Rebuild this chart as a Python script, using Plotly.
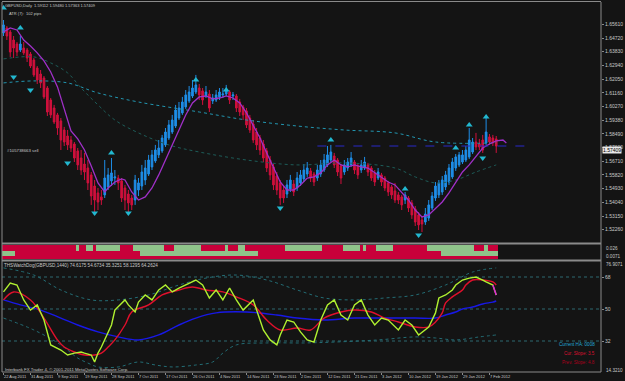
import plotly.graph_objects as go

# ---------------- data ----------------
date_labels = ["22 Aug 2011", "31 Aug 2011", "9 Sep 2011", "19 Sep 2011", "28 Sep 2011",
               "7 Oct 2011", "17 Oct 2011", "26 Oct 2011", "4 Nov 2011", "14 Nov 2011",
               "23 Nov 2011", "2 Dec 2011", "12 Dec 2011", "21 Dec 2011", "3 Jan 2012",
               "10 Jan 2012", "19 Jan 2012", "29 Jan 2012", "7 Feb 2012"]
date_bars = [0, 8, 16, 24, 32, 40, 48, 56, 64, 72, 80, 88, 96, 104, 112, 120, 128, 136, 144]

price_ticks = [1.6561, 1.6472, 1.6383, 1.6294, 1.6205, 1.6116, 1.6027, 1.5938, 1.5849, 1.5760,
               1.5671, 1.5582, 1.5493, 1.5404, 1.5315, 1.5226]

ha_open = [1.6505, 1.6537, 1.6511, 1.6459, 1.6433, 1.6394, 1.6407, 1.6394, 1.6368, 1.6329,
           1.6277, 1.6238, 1.6212, 1.6147, 1.6069, 1.6017, 1.5972, 1.5933, 1.5874, 1.5835,
           1.5809, 1.5783, 1.5738, 1.5692, 1.5653, 1.5627, 1.5582, 1.5510, 1.5465, 1.5439,
           1.5452, 1.5504, 1.5543, 1.5562, 1.5562, 1.5543, 1.5497, 1.5458, 1.5432, 1.5419,
           1.5484, 1.5510, 1.5549, 1.5588, 1.5634, 1.5673, 1.5712, 1.5738, 1.5777, 1.5822,
           1.5861, 1.5900, 1.5952, 1.5985, 1.6024, 1.6063, 1.6095, 1.6121, 1.6147, 1.6128,
           1.6095, 1.6108, 1.6063, 1.6069, 1.6089, 1.6102, 1.6108, 1.6121, 1.6095, 1.6095,
           1.6056, 1.6024, 1.5998, 1.5952, 1.5913, 1.5861, 1.5822, 1.5783, 1.5738, 1.5679,
           1.5634, 1.5575, 1.5530, 1.5484, 1.5458, 1.5491, 1.5523, 1.5497, 1.5530, 1.5556,
           1.5588, 1.5608, 1.5588, 1.5562, 1.5588, 1.5614, 1.5647, 1.5679, 1.5705, 1.5679,
           1.5640, 1.5601, 1.5627, 1.5647, 1.5666, 1.5640, 1.5614, 1.5627, 1.5647, 1.5627,
           1.5595, 1.5562, 1.5582, 1.5562, 1.5530, 1.5504, 1.5478, 1.5452, 1.5439, 1.5419,
           1.5432, 1.5400, 1.5361, 1.5322, 1.5289, 1.5276, 1.5302, 1.5367, 1.5432, 1.5452,
           1.5471, 1.5504, 1.5536, 1.5569, 1.5627, 1.5647, 1.5666, 1.5679, 1.5699, 1.5731,
           1.5796, 1.5783, 1.5809, 1.5790, 1.5829, 1.5822, 1.5816]
ha_close = [1.6557, 1.6485, 1.6381, 1.6407, 1.6381, 1.6433, 1.6375, 1.6342, 1.6290, 1.6232,
            1.6199, 1.6180, 1.6089, 1.5991, 1.5972, 1.5926, 1.5887, 1.5809, 1.5796, 1.5777,
            1.5757, 1.5692, 1.5647, 1.5614, 1.5601, 1.5530, 1.5445, 1.5419, 1.5406, 1.5419,
            1.5562, 1.5582, 1.5595, 1.5569, 1.5530, 1.5432, 1.5419, 1.5400, 1.5387, 1.5549,
            1.5530, 1.5601, 1.5627, 1.5679, 1.5712, 1.5744, 1.5757, 1.5822, 1.5861, 1.5907,
            1.5939, 1.6004, 1.6017, 1.6056, 1.6102, 1.6121, 1.6147, 1.6167, 1.6102, 1.6069,
            1.6121, 1.6017, 1.6082, 1.6102, 1.6121, 1.6108, 1.6134, 1.6069, 1.6102, 1.6017,
            1.5991, 1.5972, 1.5907, 1.5874, 1.5809, 1.5777, 1.5744, 1.5692, 1.5627, 1.5582,
            1.5517, 1.5484, 1.5432, 1.5432, 1.5517, 1.5549, 1.5471, 1.5562, 1.5582, 1.5614,
            1.5627, 1.5562, 1.5536, 1.5614, 1.5647, 1.5679, 1.5712, 1.5731, 1.5647, 1.5601,
            1.5562, 1.5647, 1.5666, 1.5692, 1.5614, 1.5582, 1.5647, 1.5666, 1.5601, 1.5562,
            1.5536, 1.5601, 1.5536, 1.5497, 1.5471, 1.5452, 1.5419, 1.5419, 1.5387, 1.5452,
            1.5367, 1.5322, 1.5276, 1.5257, 1.5263, 1.5328, 1.5387, 1.5445, 1.5510, 1.5530,
            1.5549, 1.5582, 1.5627, 1.5666, 1.5699, 1.5712, 1.5712, 1.5744, 1.5809, 1.5796,
            1.5764, 1.5764, 1.5744, 1.5861, 1.5796, 1.5790, 1.5770]
ha_high = [1.6589, 1.6550, 1.6524, 1.6485, 1.6446, 1.6485, 1.6446, 1.6407, 1.6381, 1.6342,
           1.6290, 1.6264, 1.6225, 1.6160, 1.6082, 1.6037, 1.5985, 1.5952, 1.5894, 1.5874,
           1.5835, 1.5796, 1.5757, 1.5744, 1.5725, 1.5679, 1.5601, 1.5549, 1.5497, 1.5484,
           1.5679, 1.5627, 1.5692, 1.5614, 1.5582, 1.5562, 1.5517, 1.5484, 1.5452, 1.5582,
           1.5562, 1.5647, 1.5679, 1.5712, 1.5744, 1.5777, 1.5809, 1.5842, 1.5887, 1.5939,
           1.5972, 1.6037, 1.6056, 1.6089, 1.6134, 1.6160, 1.6199, 1.6232, 1.6173, 1.6147,
           1.6160, 1.6134, 1.6108, 1.6134, 1.6147, 1.6147, 1.6167, 1.6134, 1.6121, 1.6108,
           1.6076, 1.6037, 1.6017, 1.5972, 1.5939, 1.5887, 1.5842, 1.5809, 1.5757, 1.5705,
           1.5653, 1.5601, 1.5549, 1.5510, 1.5549, 1.5582, 1.5549, 1.5601, 1.5614, 1.5653,
           1.5666, 1.5627, 1.5601, 1.5647, 1.5679, 1.5718, 1.5770, 1.5777, 1.5725, 1.5692,
           1.5653, 1.5679, 1.5692, 1.5731, 1.5679, 1.5653, 1.5679, 1.5699, 1.5660, 1.5640,
           1.5614, 1.5627, 1.5595, 1.5575, 1.5543, 1.5517, 1.5530, 1.5471, 1.5452, 1.5471,
           1.5445, 1.5419, 1.5380, 1.5341, 1.5315, 1.5367, 1.5419, 1.5471, 1.5536, 1.5549,
           1.5575, 1.5608, 1.5653, 1.5692, 1.5718, 1.5731, 1.5744, 1.5770, 1.5887, 1.5822,
           1.5855, 1.5816, 1.5842, 1.5952, 1.5848, 1.5842, 1.5835]
ha_low = [1.6485, 1.6459, 1.6349, 1.6342, 1.6355, 1.6381, 1.6362, 1.6316, 1.6277, 1.6219,
          1.6173, 1.6147, 1.6076, 1.5965, 1.5952, 1.5913, 1.5842, 1.5744, 1.5770, 1.5744,
          1.5731, 1.5666, 1.5614, 1.5582, 1.5549, 1.5484, 1.5387, 1.5322, 1.5354, 1.5387,
          1.5432, 1.5484, 1.5510, 1.5517, 1.5484, 1.5406, 1.5354, 1.5341, 1.5354, 1.5387,
          1.5445, 1.5484, 1.5517, 1.5575, 1.5614, 1.5660, 1.5692, 1.5725, 1.5764, 1.5809,
          1.5848, 1.5887, 1.5939, 1.5972, 1.6011, 1.6050, 1.6082, 1.6108, 1.6069, 1.6037,
          1.6082, 1.5991, 1.6043, 1.6056, 1.6069, 1.6082, 1.6095, 1.6043, 1.6069, 1.5991,
          1.5965, 1.5939, 1.5887, 1.5855, 1.5790, 1.5744, 1.5712, 1.5666, 1.5601, 1.5549,
          1.5484, 1.5452, 1.5387, 1.5400, 1.5432, 1.5471, 1.5445, 1.5478, 1.5510, 1.5536,
          1.5569, 1.5536, 1.5510, 1.5543, 1.5569, 1.5601, 1.5634, 1.5666, 1.5627, 1.5575,
          1.5523, 1.5582, 1.5608, 1.5634, 1.5588, 1.5556, 1.5595, 1.5614, 1.5575, 1.5543,
          1.5510, 1.5549, 1.5510, 1.5478, 1.5445, 1.5426, 1.5400, 1.5393, 1.5354, 1.5393,
          1.5341, 1.5296, 1.5250, 1.5224, 1.5211, 1.5257, 1.5283, 1.5354, 1.5413, 1.5432,
          1.5452, 1.5484, 1.5517, 1.5556, 1.5608, 1.5634, 1.5653, 1.5666, 1.5686, 1.5718,
          1.5744, 1.5744, 1.5725, 1.5777, 1.5777, 1.5770, 1.5725]

ma_fast_bars = [0, 2, 4, 6, 8, 10, 12, 14, 16, 18, 20, 22, 24, 26, 28, 30, 31, 33, 35, 36, 38, 40,
                42, 44, 46, 48, 50, 52, 54, 56, 58, 60, 62, 64, 66, 68, 70, 72, 74, 76, 78, 80,
                82, 84, 86, 88, 90, 92, 94, 96, 98, 100, 102, 104, 106, 108, 110, 112, 114, 116,
                118, 120, 122, 124, 126, 128, 130, 132, 134, 136, 138, 140, 142, 144, 146, 148, 149]
ma_fast = [1.6511, 1.6537, 1.6524, 1.6459, 1.6420, 1.6375, 1.6323, 1.6251, 1.6154, 1.6004,
           1.5868, 1.5816, 1.5744, 1.5640, 1.5530, 1.5471, 1.5497, 1.5536, 1.5556, 1.5549,
           1.5471, 1.5419, 1.5439, 1.5497, 1.5582, 1.5679, 1.5777, 1.5874, 1.5972, 1.6050,
           1.6089, 1.6095, 1.6076, 1.6082, 1.6095, 1.6082, 1.6050, 1.5985, 1.5907, 1.5822,
           1.5725, 1.5627, 1.5536, 1.5484, 1.5484, 1.5517, 1.5562, 1.5569, 1.5595, 1.5647,
           1.5679, 1.5647, 1.5634, 1.5647, 1.5634, 1.5627, 1.5595, 1.5569, 1.5536, 1.5517,
           1.5471, 1.5419, 1.5354, 1.5309, 1.5322, 1.5367, 1.5406, 1.5465, 1.5536, 1.5601,
           1.5647, 1.5699, 1.5757, 1.5783, 1.5803, 1.5809, 1.5790]

ma_long_bars = [0, 9, 19, 28, 40, 58, 72, 87, 101, 116, 128, 146]
ma_long = [1.6180, 1.6193, 1.6180, 1.6115, 1.6056, 1.5991, 1.5939, 1.5900, 1.5874, 1.5855, 1.5796, 1.5790]
ma_mid_bars = [0, 9, 14, 19, 23, 28, 33, 40, 49, 58, 72, 87, 101, 116, 122, 128, 134, 140, 146]
ma_mid = [1.6336, 1.6349, 1.6310, 1.6245, 1.6147, 1.6037, 1.5939, 1.5855, 1.5777, 1.5731,
          1.5679, 1.5647, 1.5660, 1.5627, 1.5569, 1.5530, 1.5549, 1.5601, 1.5647]

up_arrow_bars = [0, 5, 32, 57, 66, 97, 119, 134, 138, 143]
up_arrow_px = [1.6667, 1.6537, 1.5725, 1.6199, 1.6134, 1.5809, 1.5491, 1.5757, 1.5907, 1.5959]
dn_arrow_bars = [3, 8, 19, 27, 37, 82, 123, 142]
dn_arrow_px = [1.6219, 1.6134, 1.5660, 1.5335, 1.5335, 1.5367, 1.5192, 1.5692]

sell_price = 1.5770
sell_bars = [93, 155]
last_close = 1.57409

strip_row_a = [("R", 22), ("G", 1), ("R", 2), ("G", 2), ("R", 1), ("G", 7), ("R", 4), ("G", 9),
               ("R", 3), ("G", 8), ("R", 7), ("G", 1), ("R", 3), ("G", 2), ("R", 12), ("G", 11),
               ("R", 6), ("G", 5), ("R", 1), ("G", 1), ("R", 3), ("G", 5), ("R", 10), ("G", 14),
               ("R", 3), ("G", 1), ("R", 3)]
strip_row_b = [("G", 4), ("R", 37), ("G", 35), ("R", 54), ("G", 17)]
strip_labels = ["0.026", "0.0071"]

osc_fast_bars = [0, 2, 4, 6, 8, 10, 12, 14, 17, 19, 21, 23, 24, 26, 27, 28, 29, 30, 32, 33, 36, 37,
                 39, 40, 42, 44, 46, 48, 50, 52, 55, 57, 59, 61, 63, 65, 67, 69, 71, 74, 76, 77,
                 79, 81, 82, 84, 86, 88, 90, 92, 94, 96, 98, 100, 102, 104, 106, 108, 110, 112,
                 114, 117, 119, 121, 123, 126, 128, 129, 131, 133, 134, 136, 138, 140, 142, 143,
                 145, 146]
osc_fast = [59.6, 64.6, 63.5, 55.1, 49.4, 52.3, 43.8, 29.8, 26.9, 24.1, 25.2, 25.8, 25.2, 24.1,
            20.2, 25.2, 28.6, 32.6, 41.0, 49.4, 55.1, 52.3, 48.3, 53.9, 57.9, 55.1, 60.7, 63.5,
            59.6, 61.8, 64.6, 66.3, 63.5, 56.2, 60.7, 55.1, 61.8, 55.1, 49.4, 55.1, 43.8, 38.2,
            32.6, 29.8, 35.4, 43.8, 42.7, 37.1, 32.6, 31.4, 43.8, 52.3, 55.1, 46.6, 43.8, 52.3,
            55.1, 46.6, 41.0, 44.9, 43.8, 38.2, 43.8, 41.0, 35.4, 39.9, 47.8, 56.2, 57.9, 60.7,
            63.5, 66.3, 67.4, 68.0, 66.3, 65.2, 63.5, 57.9]
osc_mid_bars = [0, 3, 8, 12, 16, 18, 21, 24, 27, 29, 31, 33, 36, 38, 43, 47, 52, 56, 60, 65, 69,
                74, 78, 82, 87, 91, 95, 100, 104, 109, 113, 117, 122, 126, 128, 130, 131, 133,
                136, 137, 139, 142, 145, 146]
osc_mid = [55.1, 59.6, 55.1, 44.9, 32.6, 28.6, 25.8, 24.1, 24.1, 25.2, 28.6, 32.6, 41.0, 48.3,
           52.3, 57.9, 60.7, 62.4, 60.7, 59.6, 56.8, 52.3, 43.8, 38.2, 39.3, 38.2, 44.9, 48.3,
           49.4, 48.3, 44.9, 42.7, 39.9, 39.9, 42.7, 47.8, 53.4, 56.8, 60.7, 63.5, 66.3, 66.3,
           65.2, 63.5]
osc_slow_bars = [0, 5, 11, 17, 22, 28, 34, 40, 46, 52, 57, 63, 72, 81, 87, 95, 104, 113, 122, 128,
                 131, 134, 136, 139, 142, 145, 146]
osc_slow = [55.1, 52.3, 49.4, 44.9, 41.0, 37.1, 34.3, 32.6, 35.4, 41.0, 44.9, 47.8, 48.3, 46.6,
            44.9, 43.8, 44.9, 44.9, 44.9, 44.9, 46.6, 48.3, 50.0, 51.1, 52.8, 53.9, 54.5]
band_up_bars = [0, 9, 17, 26, 34, 43, 52, 60, 69, 78, 87, 95, 104, 113, 122, 131, 139, 146]
band_up = [73.1, 69.1, 60.7, 55.1, 55.1, 57.9, 63.5, 67.4, 69.1, 66.3, 60.7, 56.2, 55.1, 56.2,
           57.9, 63.5, 70.8, 73.1]
band_dn_bars = [0, 9, 17, 22, 25, 28, 34, 40, 45, 50, 57, 62, 65, 69, 78, 89, 98, 111, 122, 128,
                134, 141, 146]
band_dn = [44.9, 38.2, 29.8, 22.4, 19.6, 17.4, 17.4, 20.2, 18.5, 17.4, 18.5, 20.2, 25.2, 29.8,
           30.9, 30.9, 31.4, 32.6, 34.3, 33.7, 32.6, 34.3, 35.4]
osc_levels = [32, 50, 68]
osc_max_label = "76.9071"
osc_min_label = "14.3210"

# ---------------- styling ----------------
BG = "#141414"
GRID = "#8a8a8a"
TXT = "#c8c8c8"
FONT = "Liberation Sans"
FS = 5
W, H = 625, 381
L, R, T, B = 2, 16, 2, 9
PLOT_W = W - L - R
PLOT_H = H - T - B


def py(p):  # pixel y -> paper y
    return (H - B - p) / PLOT_H


def px(p):  # pixel x -> paper x
    return (p - L) / PLOT_W


n = len(ha_open)
bars = list(range(n))
bar_px = 3.42
x_lo = -0.44
x_hi = x_lo + PLOT_W / bar_px


def expand(runs):
    out = []
    for s, k in runs:
        out += [s] * k
    return out


RED = "#c8003a"
GREEN = "#8fc38a"

fig = go.Figure()

# main panel
fig.add_trace(go.Scatter(x=ma_long_bars, y=ma_long, mode="lines", yaxis="y2",
                         line=dict(color="#2296b0", width=1, dash="dot", shape="spline")))
fig.add_trace(go.Scatter(x=ma_mid_bars, y=ma_mid, mode="lines", yaxis="y2",
                         line=dict(color="#1d5c58", width=1, dash="dot", shape="spline")))
fig.add_trace(go.Candlestick(x=bars, open=ha_open, high=ha_high, low=ha_low, close=ha_close,
                             yaxis="y2", whiskerwidth=0,
                             increasing=dict(line=dict(color="#1e8ee8", width=1), fillcolor="#1e8ee8"),
                             decreasing=dict(line=dict(color="#d0103c", width=1), fillcolor="#d0103c")))
fig.add_trace(go.Scatter(x=ma_fast_bars, y=ma_fast, mode="lines", yaxis="y2",
                         line=dict(color="#a030c8", width=1.3)))
fig.add_trace(go.Scatter(x=sell_bars, y=[sell_price, sell_price], mode="lines", yaxis="y2",
                         line=dict(color="#2828c8", width=1.2, dash="dash")))
fig.add_trace(go.Scatter(x=up_arrow_bars, y=up_arrow_px, mode="markers", yaxis="y2",
                         marker=dict(symbol="triangle-up", size=6, color="#22b8d0")))
fig.add_trace(go.Scatter(x=dn_arrow_bars, y=dn_arrow_px, mode="markers", yaxis="y2",
                         marker=dict(symbol="triangle-down", size=6, color="#22b8d0")))

# strip panel
row_a = expand(strip_row_a)
row_b = expand(strip_row_b)
cmap = {"R": RED, "G": GREEN}
fig.add_trace(go.Bar(x=bars, y=[3.3] * n, base=[0.7] * n, width=1, yaxis="y3",
                     marker=dict(color=RED, line=dict(width=0))))
fig.add_trace(go.Bar(x=bars, y=[5.3] * n, base=[4.0] * n, width=1, yaxis="y3",
                     marker=dict(color=[cmap[s] for s in row_b], line=dict(width=0))))
fig.add_trace(go.Bar(x=bars, y=[5.7] * n, base=[9.3] * n, width=1, yaxis="y3",
                     marker=dict(color=[cmap[s] for s in row_a], line=dict(width=0))))

# oscillator panel
for lv in osc_levels:
    fig.add_trace(go.Scatter(x=[x_lo, x_hi], y=[lv, lv], mode="lines", yaxis="y",
                             line=dict(color="#2c6870", width=1, dash="dot")))
fig.add_trace(go.Scatter(x=band_up_bars, y=band_up, mode="lines", yaxis="y",
                         line=dict(color="#236c74", width=1, dash="dot", shape="spline")))
fig.add_trace(go.Scatter(x=band_dn_bars, y=band_dn, mode="lines", yaxis="y",
                         line=dict(color="#236c74", width=1, dash="dot", shape="spline")))
fig.add_trace(go.Scatter(x=osc_slow_bars, y=osc_slow, mode="lines", yaxis="y",
                         line=dict(color="#1818e6", width=1.4, shape="spline")))
fig.add_trace(go.Scatter(x=osc_mid_bars, y=osc_mid, mode="lines", yaxis="y",
                         line=dict(color="#e0102c", width=1.4, shape="spline")))
fig.add_trace(go.Scatter(x=osc_fast_bars, y=osc_fast, mode="lines", yaxis="y",
                         line=dict(color="#b0f030", width=1.4)))
fig.add_trace(go.Scatter(x=osc_fast_bars[-2:], y=osc_fast[-2:], mode="lines", yaxis="y",
                         line=dict(color="#e020e0", width=1.4)))

tickfont = dict(family=FONT, size=FS, color=TXT)


def left_note(text, x, y, size):
    return dict(text=text, x=px(x), y=py(y), xref="paper", yref="paper", xanchor="left",
                yanchor="middle", showarrow=False, font=dict(family=FONT, size=size, color=TXT))


def right_note(text, y, color):
    return dict(text=text, x=px(605), y=py(y), xref="paper", yref="paper", xanchor="right",
                yanchor="middle", showarrow=False, font=dict(family=FONT, size=4.6, color=color))


def axis_note(text, y):
    return dict(text=text, x=1, y=py(y), xref="paper", yref="paper", xanchor="left",
                yanchor="middle", xshift=3, showarrow=False,
                font=dict(family=FONT, size=4.6, color=TXT))


annotations = [
    left_note("GBPUSD,Daily  1.59112 1.59480 1.57363 1.57409", 3, 5, 4.0),
    left_note("ATR (7):  102 pips", 7, 13.5, 4.0),
    left_note("#105738663 sell", 5, 150, 4.3),
    left_note("THSWatchDog(GBPUSD,1440) 74.6175 54.6734 35.3251 58.1295 64.2624", 2, 265, 4.6),
    left_note("Interbank FX Trader 4, \u00a9 2001-2011 MetaQuotes Software Corp.", 3, 369, 4.3),
    right_note("Current HA: 0008", 344.5, "#22a8d8"),
    right_note("Cur. Slope: 3.5", 353.5, "#d81030"),
    right_note("Prev. Slope: 4.8", 362, "#a8001c"),
    axis_note(strip_labels[0], 248),
    axis_note(strip_labels[1], 256.5),
    axis_note(osc_max_label, 264.5),
    axis_note(osc_min_label, 370.5),
    dict(text="%.5f" % last_close, x=1, xref="paper", y=last_close, yref="y2",
         xanchor="left", yanchor="middle", xshift=1, showarrow=False,
         bgcolor="#e8e8e8", borderpad=0,
         font=dict(family=FONT, size=FS, color="#000000")),
]

shapes = []
for yy, wd in [(1.5, 1), (243.5, 2), (260.5, 2), (372, 1)]:
    shapes.append(dict(type="line", xref="paper", yref="paper", x0=0, x1=1, y0=py(yy), y1=py(yy),
                       line=dict(color=GRID, width=wd)))
for xx in [0, 1]:
    shapes.append(dict(type="line", xref="paper", yref="paper", x0=xx, x1=xx, y0=0, y1=1,
                       line=dict(color=GRID, width=1)))

fig.update_layout(
    width=W, height=H, margin=dict(l=L, r=R, t=T, b=B),
    paper_bgcolor=BG, plot_bgcolor=BG, showlegend=False, barmode="overlay", bargap=0,
    hovermode=False,
    xaxis=dict(range=[x_lo, x_hi], anchor="y", showgrid=False, zeroline=False, showline=False,
               tickmode="array", tickvals=date_bars, ticktext=date_labels, tickangle=0,
               ticks="outside", ticklen=2, tickcolor=GRID, ticklabelposition="outside right",
               tickfont=dict(family=FONT, size=4.0, color=TXT), rangeslider=dict(visible=False)),
    yaxis=dict(domain=[0, py(261)], range=[14.56, 77.0], side="right", showgrid=False,
               zeroline=False, tickmode="array", tickvals=osc_levels, ticks="outside", ticklen=2,
               tickcolor=GRID, tickfont=tickfont),
    yaxis2=dict(domain=[py(241), 1], range=[1.51525, 1.6706], side="right", showgrid=False,
                zeroline=False, tickmode="array", tickvals=price_ticks, tickformat=".5f",
                ticks="outside", ticklen=2, tickcolor=GRID, tickfont=tickfont),
    yaxis3=dict(domain=[py(260), py(244)], range=[0, 16], side="right", showgrid=False,
                zeroline=False, showticklabels=False, ticks=""),
    annotations=annotations, shapes=shapes,
)

fig.write_html("out.html")
